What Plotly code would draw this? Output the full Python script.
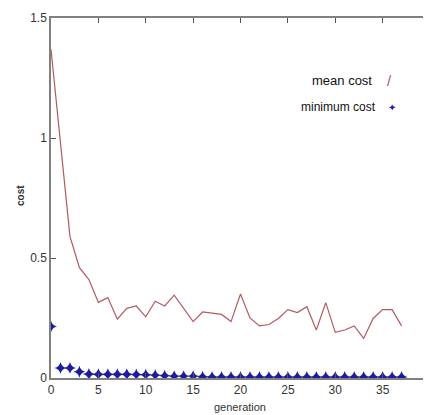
import plotly.graph_objects as go

generation = list(range(38))
mean_cost = [1.37, 0.97, 0.59, 0.46, 0.41, 0.315, 0.335, 0.245, 0.29, 0.30,
             0.255, 0.32, 0.30, 0.345, 0.29, 0.235, 0.275, 0.27, 0.265, 0.235,
             0.35, 0.25, 0.217, 0.223, 0.248, 0.285, 0.273, 0.297, 0.20, 0.314,
             0.19, 0.20, 0.217, 0.165, 0.248, 0.285, 0.285, 0.217]
min_cost = [0.215, 0.042, 0.042, 0.026, 0.017, 0.016, 0.016, 0.016, 0.016, 0.015,
            0.014, 0.012, 0.010, 0.008, 0.008, 0.008, 0.005, 0.004, 0.004, 0.004,
            0.004, 0.004, 0.004, 0.004, 0.004, 0.004, 0.004, 0.004, 0.004, 0.004,
            0.004, 0.004, 0.004, 0.004, 0.004, 0.004, 0.004, 0.004]
x_ticks = [0, 5, 10, 15, 20, 25, 30, 35, 40]
y_ticks = [0, 0.5, 1, 1.5]
y_tick_labels = ["0", "0.5", "1", "1.5"]

LINE_COL = "#b35a5e"
MARK_COL = "#1c1c9c"
FONT = "Liberation Sans, Arial, sans-serif"

fig = go.Figure()
fig.add_trace(go.Scatter(x=generation, y=mean_cost, mode="lines", name="mean cost",
                         line=dict(color=LINE_COL, width=1.2)))
fig.add_trace(go.Scatter(x=generation, y=min_cost, mode="markers", name="minimum cost",
                         marker=dict(symbol="star-diamond", size=8.5, color=MARK_COL,
                                     line=dict(width=0))))

axis_common = dict(showline=True, linecolor="#808080", linewidth=1.5, mirror="allticks",
                   ticks="inside", ticklen=5, tickcolor="#555555", tickwidth=1,
                   showgrid=False, zeroline=False, automargin=False,
                   tickfont=dict(family=FONT, size=12, color="#333333"))

# page has an 8px body margin; compensate so the plot sits where the reference has it
OFF = 8
W, H = 431 - OFF, 415 - OFF
PL, PT, PR, PB = 51, 18, 430, 378      # plot box in window pixels
L, T = PL - OFF, PT - OFF
R, B = W - (PR - OFF), H - (PB - OFF)
pw, ph = W - L - R, H - T - B

fig.update_layout(
    width=W, height=H,
    margin=dict(l=L, r=R, t=T, b=B),
    paper_bgcolor="white", plot_bgcolor="white",
    showlegend=False,
    xaxis=dict(range=[0, 40], tickvals=x_ticks, ticklabelstandoff=0, **axis_common),
    yaxis=dict(range=[0, 1.5], tickvals=y_ticks, ticktext=y_tick_labels, **axis_common),
)

def px(x):
    return (x - PL) / pw

def py(y):
    return (PB - y) / ph

# axis titles
fig.add_annotation(xref="paper", yref="paper", x=px(240), y=py(407),
                   text="generation", showarrow=False, xanchor="center", yanchor="middle",
                   font=dict(family=FONT, size=11, color="#333333"))
fig.add_annotation(xref="paper", yref="paper", x=px(20), y=py(196),
                   text="<b>cost</b>", showarrow=False, xanchor="center", yanchor="middle",
                   textangle=-90, font=dict(family=FONT, size=10, color="#333333"))

# legend drawn as annotations (text left, sample right, as in the reference)
fig.add_annotation(xref="paper", yref="paper", x=px(374), y=py(80),
                   text="mean cost", showarrow=False, xanchor="right", yanchor="middle",
                   font=dict(family=FONT, size=13, color="#111111"))
fig.add_annotation(xref="paper", yref="paper", x=px(378), y=py(107),
                   text="minimum cost", showarrow=False, xanchor="right", yanchor="middle",
                   font=dict(family=FONT, size=12, color="#111111"))
fig.add_annotation(xref="paper", yref="paper", x=px(389), y=py(80),
                   text="/", showarrow=False, xanchor="center", yanchor="middle",
                   font=dict(family=FONT, size=15, color=LINE_COL))
fig.add_annotation(xref="paper", yref="paper", x=px(392), y=py(107),
                   text="✦", showarrow=False, xanchor="center", yanchor="middle",
                   font=dict(family="DejaVu Sans", size=10, color=MARK_COL))

fig.write_html("out.html")
